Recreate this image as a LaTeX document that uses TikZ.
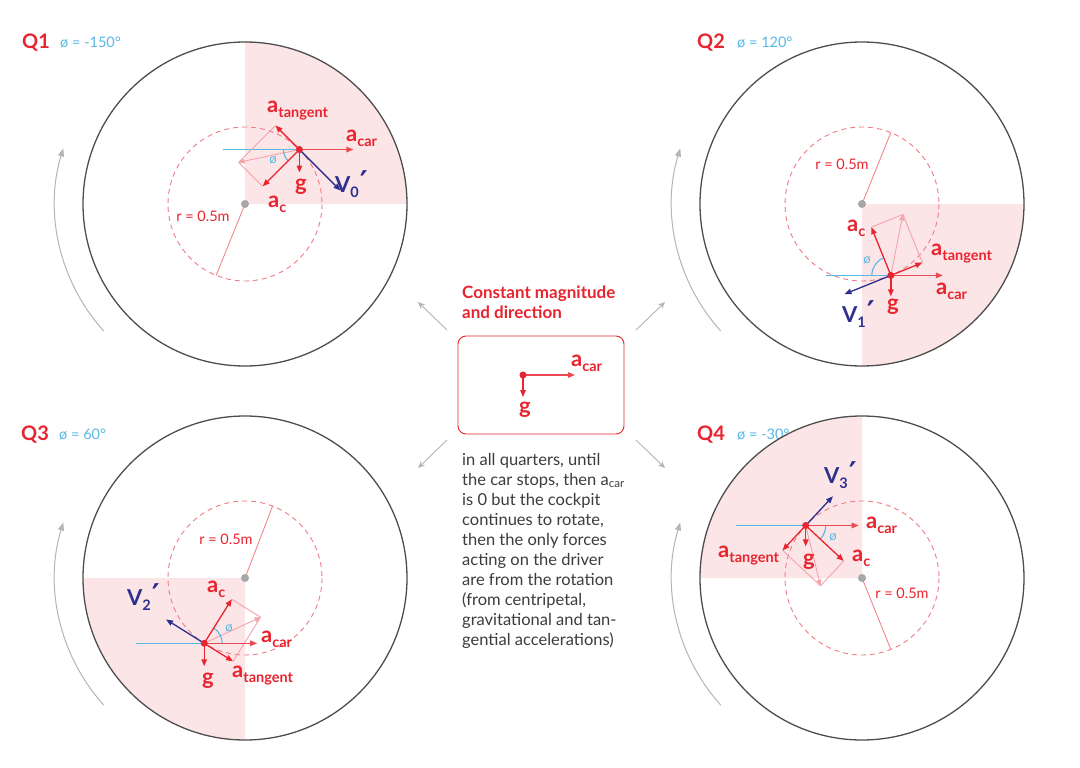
\documentclass[tikz,border=0pt]{standalone}
\usepackage{fontspec}
\setmainfont{Lato}
\newfontfamily\dejavu{DejaVu Sans}
\usetikzlibrary{arrows.meta,calc}
\definecolor{vred}{HTML}{E8242E}
\definecolor{acarred}{HTML}{EC4A52}
\definecolor{pinkfill}{HTML}{FCE5E7}
\definecolor{pinkline}{HTML}{F4A3AA}
\definecolor{dashred}{HTML}{F07C84}
\definecolor{radred}{HTML}{F17A82}
\definecolor{skyblue}{HTML}{55B9E6}
\definecolor{vblue}{HTML}{2E2F8F}
\definecolor{ringgray}{HTML}{4D4D4D}
\definecolor{dotgray}{HTML}{A7A7A7}
\definecolor{arrowgray}{HTML}{B5B5B5}
\definecolor{textgray}{HTML}{3C3C3C}
\newcommand\vlab[2]{#1\raisebox{-5pt}{\fontsize{14.5}{14.5}\selectfont #2}}
\newcommand\vvel[1]{V\raisebox{-5pt}{\fontsize{14.5}{14.5}\selectfont #1}\hspace{1pt}{\dejavu\bfseries\fontsize{30}{30}\selectfont ′}}
\begin{document}
\begin{tikzpicture}[x=1pt,y=-1pt,
  ring/.style={draw=ringgray, line width=1.3},
  dashc/.style={draw=dashred, line width=0.9, dash pattern=on 5pt off 4pt},
  radl/.style={draw=radred, line width=0.8},
  vec/.style={draw=vred, line width=1.3, -{Triangle[length=7pt,width=5.5pt]}},
  acar/.style={draw=acarred, line width=1.3, -{Triangle[length=7pt,width=5.5pt]}},
  res/.style={draw=pinkline, line width=0.9, -{Triangle[length=6pt,width=5pt]}},
  para/.style={draw=pinkline, line width=0.9},
  vel/.style={draw=vblue, line width=1.3, -{Triangle[length=7pt,width=5.5pt]}},
  hline/.style={draw=skyblue, line width=1.1},
  phiarc/.style={draw=skyblue, line width=1.1},
  curv/.style={draw=arrowgray, line width=1, -{Triangle[length=8pt,width=6pt]}},
  garrow/.style={draw=arrowgray, line width=0.9, -{Stealth[length=7pt,width=6pt]}},
  lab/.style={inner sep=0, anchor=base west, text=vred, font=\bfseries\fontsize{22}{22}\selectfont},
  vlabst/.style={inner sep=0, anchor=base west, text=vblue, font=\bfseries\fontsize{22}{22}\selectfont},
  philab/.style={inner sep=0, text=skyblue, font=\fontsize{13}{13}\selectfont},
  rlab/.style={inner sep=0, text=vred, font=\fontsize{14.5}{14.5}\selectfont},
  qtitle/.style={inner sep=0, anchor=base west, text=vred, font=\bfseries\fontsize{20}{20}\selectfont},
  phititle/.style={inner sep=0, anchor=base west, text=skyblue, font=\fontsize{14.5}{14.5}\selectfont},
  ]
\fill[white] (0,0) rectangle (1080,768);
\useasboundingbox (0,0) rectangle (1080,768);

% ---------- titles ----------
\node[qtitle] (q1) at (22,49) {Q1};
\node[phititle] (f1) at (60,48) {ø = -150°};
\node[qtitle] (q2) at (697,49) {Q2};
\node[phititle] (f2) at (737,48) {ø = 120°};
\node[qtitle] (q3) at (21,440) {Q3};
\node[phititle] (f3) at (59,439) {ø = 60°};
\node[qtitle] (q4) at (697,440) {Q4};
\node[phititle] (f4) at (737,439) {ø = -30°};

% ---------- Q1 ----------
\coordinate (C1) at (245,204);
\fill[pinkfill] (C1) -- ++(0:162) arc[start angle=0,end angle=-90,radius=162] -- cycle;
\draw[dashc] (C1) circle[radius=77];
\coordinate (P1) at ($(C1)+(-45:77)$);
\coordinate (E1) at ($(C1)+(112:77)$);
\draw[radl] (C1) -- (E1);
\coordinate (H1) at ($(P1)+(-76,0)$);
\coordinate (T1) at ($(P1)+(225:34)$);
\coordinate (A1) at ($(P1)+(135:52)$);
\coordinate (R1) at ($(T1)+(135:52)$);
\coordinate (K1) at ($(P1)+(54,0)$);
\coordinate (G1) at ($(P1)+(0,23)$);
\coordinate (W1) at ($(P1)+(45:58)$);
\draw[hline] (H1) -- (P1);
\draw[para] (T1) -- (R1) -- (A1);
\draw[res] (P1) -- (R1);
\draw[phiarc] ($(P1)+(180:16)$) arc[start angle=180,end angle=135,radius=16];
\draw[acar] (P1) -- (K1);
\draw[vec] (P1) -- (T1);
\draw[vec] (P1) -- (A1);
\draw[vec] (P1) -- (G1);
\draw[vel] (P1) -- (W1);
\fill[vred] (P1) circle[radius=3.5];
\fill[dotgray] (C1) circle[radius=4];
\draw[ring] (C1) circle[radius=162];
\draw[curv] ($(C1)+(138:190)$) arc[start angle=138,end angle=197,radius=190];
\node[lab] (lt1) at (267,113) {\vlab{a}{tangent}};
\node[lab] (lk1) at (346,142) {\vlab{a}{car}};
\node[lab] (la1) at (268,207) {\vlab{a}{c}};
\node[lab] (lg1) at (295,190) {g};
\node[vlabst] (lv1) at (335,192) {\vvel{0}};
\node[philab] (lp1) at (273,160) {ø};
\node[rlab] (lr1) at (203,216) {r = 0.5m};

% ---------- Q2 ----------
\coordinate (C2) at (862,204);
\fill[pinkfill] (C2) -- ++(0:162) arc[start angle=0,end angle=90,radius=162] -- cycle;
\draw[dashc] (C2) circle[radius=77];
\coordinate (P2) at ($(C2)+(68:77)$);
\coordinate (E2) at ($(C2)+(-68:77)$);
\draw[radl] (C2) -- (E2);
\coordinate (H2) at ($(P2)+(-65,0)$);
\coordinate (T2) at ($(P2)+(338:34)$);
\coordinate (A2) at ($(P2)+(248:52)$);
\coordinate (R2) at ($(T2)+(248:52)$);
\coordinate (K2) at ($(P2)+(52,0)$);
\coordinate (G2) at ($(P2)+(0,21)$);
\coordinate (W2) at ($(P2)+(158:50)$);
\draw[hline] (H2) -- (P2);
\draw[para] (T2) -- (R2) -- (A2);
\draw[res] (P2) -- (R2);
\draw[phiarc] ($(P2)+(180:19)$) arc[start angle=180,end angle=248,radius=19];
\draw[acar] (P2) -- (K2);
\draw[vec] (P2) -- (T2);
\draw[vec] (P2) -- (A2);
\draw[vec] (P2) -- (G2);
\draw[vel] (P2) -- (W2);
\fill[vred] (P2) circle[radius=3.5];
\fill[dotgray] (C2) circle[radius=4];
\draw[ring] (C2) circle[radius=162];
\draw[curv] ($(C2)+(138:190)$) arc[start angle=138,end angle=197,radius=190];
\node[lab] (la2) at (847,231) {\vlab{a}{c}};
\node[lab] (lt2) at (931,255) {\vlab{a}{tangent}};
\node[lab] (lk2) at (936,294) {\vlab{a}{car}};
\node[lab] (lg2) at (887,310) {g};
\node[vlabst] (lv2) at (842,322) {\vvel{1}};
\node[philab] (lp2) at (867,260) {ø};
\node[rlab] (lr2) at (842,164) {r = 0.5m};

% ---------- Q3 ----------
\coordinate (C3) at (245,578);
\fill[pinkfill] (C3) -- ++(90:162) arc[start angle=90,end angle=180,radius=162] -- cycle;
\draw[dashc] (C3) circle[radius=77];
\coordinate (P3) at ($(C3)+(122:77)$);
\coordinate (E3) at ($(C3)+(-69:77)$);
\draw[radl] (C3) -- (E3);
\coordinate (H3) at ($(P3)+(-68,0)$);
\coordinate (T3) at ($(P3)+(32:34)$);
\coordinate (A3) at ($(P3)+(302:52)$);
\coordinate (R3) at ($(T3)+(302:52)$);
\coordinate (K3) at ($(P3)+(53,0)$);
\coordinate (G3) at ($(P3)+(0,23)$);
\coordinate (W3) at ($(P3)+(212:45)$);
\draw[hline] (H3) -- (P3);
\draw[para] (T3) -- (R3) -- (A3);
\draw[res] (P3) -- (R3);
\draw[phiarc] ($(P3)+(0:18)$) arc[start angle=0,end angle=-58,radius=18];
\draw[acar] (P3) -- (K3);
\draw[vec] (P3) -- (T3);
\draw[vec] (P3) -- (A3);
\draw[vec] (P3) -- (G3);
\draw[vel] (P3) -- (W3);
\fill[vred] (P3) circle[radius=3.5];
\fill[dotgray] (C3) circle[radius=4];
\draw[ring] (C3) circle[radius=162];
\draw[curv] ($(C3)+(138:190)$) arc[start angle=138,end angle=197,radius=190];
\node[lab] (la3) at (207,592) {\vlab{a}{c}};
\node[vlabst] (lv3) at (127,605) {\vvel{2}};
\node[lab] (lk3) at (261,642) {\vlab{a}{car}};
\node[lab] (lg3) at (202,684) {g};
\node[lab] (lt3) at (232,677) {\vlab{a}{tangent}};
\node[philab] (lp3) at (229,628) {ø};
\node[rlab] (lr3) at (226,539) {r = 0.5m};

% ---------- Q4 ----------
\coordinate (C4) at (862,578);
\fill[pinkfill] (C4) -- ++(180:162) arc[start angle=180,end angle=270,radius=162] -- cycle;
\draw[dashc] (C4) circle[radius=77];
\coordinate (P4) at ($(C4)+(223:77)$);
\coordinate (E4) at ($(C4)+(68:77)$);
\draw[radl] (C4) -- (E4);
\coordinate (H4) at ($(P4)+(-70,0)$);
\coordinate (T4) at ($(P4)+(133:34)$);
\coordinate (A4) at ($(P4)+(43:52)$);
\coordinate (R4) at ($(T4)+(43:52)$);
\coordinate (K4) at ($(P4)+(53,0)$);
\coordinate (G4) at ($(P4)+(0,21)$);
\coordinate (W4) at ($(P4)+(313:40)$);
\draw[hline] (H4) -- (P4);
\draw[para] (T4) -- (R4) -- (A4);
\draw[res] (P4) -- (R4);
\draw[phiarc] ($(P4)+(0:20)$) arc[start angle=0,end angle=43,radius=20];
\draw[acar] (P4) -- (K4);
\draw[vec] (P4) -- (T4);
\draw[vec] (P4) -- (A4);
\draw[vec] (P4) -- (G4);
\draw[vel] (P4) -- (W4);
\fill[vred] (P4) circle[radius=3.5];
\fill[dotgray] (C4) circle[radius=4];
\draw[ring] (C4) circle[radius=162];
\draw[curv] ($(C4)+(138:190)$) arc[start angle=138,end angle=197,radius=190];
\node[vlabst] (lv4) at (824,483) {\vvel{3}};
\node[lab] (lk4) at (866,528) {\vlab{a}{car}};
\node[lab] (lt4) at (718,557) {\vlab{a}{tangent}};
\node[lab] (lg4) at (803,565) {g};
\node[lab] (la4) at (852,561) {\vlab{a}{c}};
\node[philab] (lp4) at (833,537) {ø};
\node[rlab] (lr4) at (902,593) {r = 0.5m};

% ---------- centre ----------
\node[inner sep=0, anchor=north west, align=left, text=vred,
      font=\bfseries\fontsize{17}{20}\selectfont] (ct) at (462,286) {Constant magnitude\\and direction};
\node[draw=vred, line width=0.9, rounded corners=8pt, minimum width=166, minimum height=98, inner sep=0] (bx) at (541,385) {};
\coordinate (B0) at (523,375);
\coordinate (BK) at (575,375);
\coordinate (BG) at (523,397);
\draw[acar] (B0) -- (BK);
\draw[vec] (B0) -- (BG);
\fill[vred] (B0) circle[radius=3.5];
\node[lab] (bk) at (571,366) {\vlab{a}{car}};
\node[lab] (bg) at (519,413) {g};
\node[inner sep=0, anchor=north west, align=left, text=textgray,
      font=\fontsize{16.5}{20}\selectfont] (bt) at (462,453)
  {in all quarters, until\\the car stops, then a\textsubscript{car}\\is 0 but the cockpit\\continues to rotate,\\then the only forces\\acting on the driver\\are from the rotation\\(from centripetal,\\gravitational and tan-\\gential accelerations)};

\coordinate (g1s) at (447,330); \coordinate (g1e) at (418,302);
\coordinate (g2s) at (636,330); \coordinate (g2e) at (665,302);
\coordinate (g3s) at (447,440); \coordinate (g3e) at (418,468);
\coordinate (g4s) at (636,440); \coordinate (g4e) at (665,468);
\draw[garrow] (g1s) -- (g1e);
\draw[garrow] (g2s) -- (g2e);
\draw[garrow] (g3s) -- (g3e);
\draw[garrow] (g4s) -- (g4e);
\end{tikzpicture}
\end{document}
